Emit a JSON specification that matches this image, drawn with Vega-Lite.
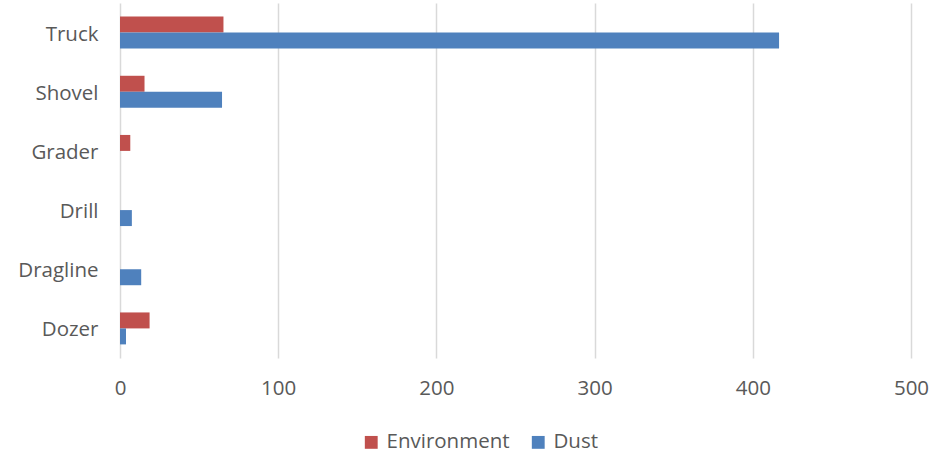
{
  "$schema": "https://vega.github.io/schema/vega-lite/v6.json",
  "autosize": {"type": "none"},
  "padding": {"left": 120, "top": 3, "right": 21, "bottom": 97},
  "width": 791,
  "height": 355,
  "background": "white",
  "config": {
    "view": {"stroke": null},
    "font": "Open Sans"
  },
  "data": {
    "values": [
      {"equipment": "Truck", "series": "Environment", "value": 65.4},
      {"equipment": "Truck", "series": "Dust", "value": 416.6},
      {"equipment": "Shovel", "series": "Environment", "value": 15.5},
      {"equipment": "Shovel", "series": "Dust", "value": 64.5},
      {"equipment": "Grader", "series": "Environment", "value": 6.5},
      {"equipment": "Drill", "series": "Dust", "value": 7.5},
      {"equipment": "Dragline", "series": "Dust", "value": 13.4},
      {"equipment": "Dozer", "series": "Environment", "value": 18.7},
      {"equipment": "Dozer", "series": "Dust", "value": 3.8}
    ]
  },
  "mark": {"type": "bar", "cornerRadius": 0},
  "encoding": {
    "y": {
      "field": "equipment",
      "type": "nominal",
      "sort": ["Truck", "Shovel", "Grader", "Drill", "Dragline", "Dozer"],
      "scale": {"paddingInner": 0.46, "paddingOuter": 0.23},
      "axis": {
        "title": null,
        "domain": false,
        "ticks": false,
        "labelFontSize": 20.5,
        "labelColor": "#595959",
        "labelPadding": 22,
        "labelFont": "Open Sans",
        "labelBaseline": "middle",
        "labelOffset": 2
      }
    },
    "yOffset": {
      "field": "series",
      "type": "nominal",
      "sort": ["Environment", "Dust"],
      "scale": {"paddingInner": 0, "paddingOuter": 0}
    },
    "x": {
      "field": "value",
      "type": "quantitative",
      "scale": {"domain": [0, 500], "nice": false},
      "axis": {
        "title": null,
        "values": [0, 100, 200, 300, 400, 500],
        "grid": true,
        "gridColor": "#D9D9D9",
        "gridWidth": 1.5,
        "domain": false,
        "ticks": false,
        "labelFlush": false,
        "labelFontSize": 20.5,
        "labelColor": "#595959",
        "labelPadding": 20,
        "labelFont": "Open Sans"
      }
    },
    "color": {
      "field": "series",
      "type": "nominal",
      "scale": {"domain": ["Environment", "Dust"], "range": ["#C0504D", "#4F81BD"]},
      "legend": {
        "title": null,
        "orient": "none",
        "direction": "horizontal",
        "legendX": 241,
        "legendY": 429,
        "symbolType": "square",
        "symbolSize": 165,
        "symbolStrokeWidth": 0,
        "labelFontSize": 20.5,
        "labelColor": "#595959",
        "labelFont": "Open Sans",
        "columnPadding": 18,
        "labelOffset": 5
      }
    }
  }
}
